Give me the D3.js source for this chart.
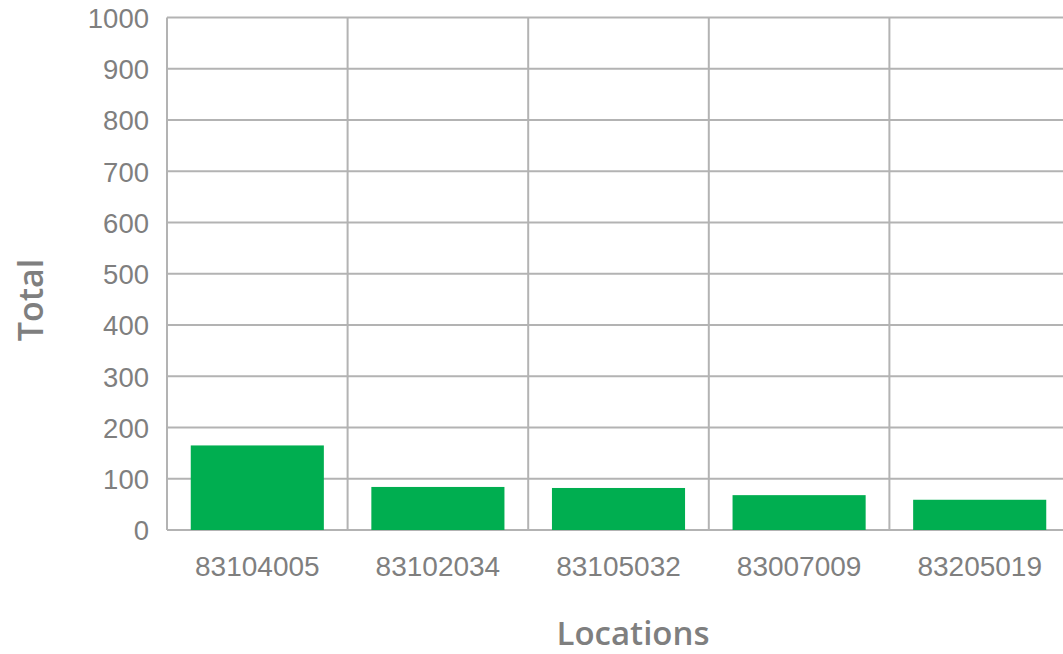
<!DOCTYPE html>
<html>
<head>
<meta charset="utf-8">
<script src="https://cdn.jsdelivr.net/npm/d3@7"></script>
<style>
  html, body { margin: 0; padding: 0; background: #fff; }
  svg { display: block; }
</style>
</head>
<body>
<svg id="chart" width="1063" height="654"></svg>
<script>
const categories = ["83104005", "83102034", "83105032", "83007009", "83205019"];
const values = [165, 84, 82, 68, 59];
const yTicks = [0, 100, 200, 300, 400, 500, 600, 700, 800, 900, 1000];
const xTitle = "Locations";
const yTitle = "Total";

const svg = d3.select("#chart");
const plotLeft = 167, plotRight = 1070, plotTop = 17.5, plotBottom = 530;
const gridColor = "#b3b3b3";
const textColor = "#7f7f7f";

const y = d3.scaleLinear().domain([0, 1000]).range([plotBottom, plotTop]);
const xGrid = d3.scaleBand().domain(categories).range([plotLeft, plotRight]).padding(0);
const x = d3.scaleBand().domain(categories).range([plotLeft, plotRight])
  .paddingInner(0.263).paddingOuter(0.1315);

// horizontal gridlines
svg.append("g").selectAll("line").data(yTicks).join("line")
  .attr("x1", plotLeft).attr("x2", 1063)
  .attr("y1", d => y(d)).attr("y2", d => y(d))
  .attr("stroke", gridColor).attr("stroke-width", 2);

// vertical gridlines at band boundaries
svg.append("g").selectAll("line").data(categories).join("line")
  .attr("x1", d => xGrid(d)).attr("x2", d => xGrid(d))
  .attr("y1", plotTop).attr("y2", plotBottom)
  .attr("stroke", gridColor).attr("stroke-width", 2);

// bars
svg.append("g").selectAll("rect").data(values).join("rect")
  .attr("x", (d, i) => x(categories[i]))
  .attr("width", x.bandwidth())
  .attr("y", d => y(d))
  .attr("height", d => plotBottom - y(d))
  .attr("fill", "#00ae50");

// y axis labels
const yAxis = d3.axisLeft(y).tickValues(yTicks).tickFormat(d3.format("d")).tickSize(0).tickPadding(0);
const gy = svg.append("g").attr("transform", `translate(${149},0)`).call(yAxis);
gy.select(".domain").remove();
gy.selectAll("text")
  .attr("fill", textColor)
  .style("font-family", "'Liberation Sans', Arial, sans-serif")
  .style("font-size", "27.5px")
  .attr("dy", "0.36em");

// x axis labels
const xAxis = d3.axisBottom(x).tickSize(0).tickPadding(0);
const gx = svg.append("g").attr("transform", `translate(0,${plotBottom})`).call(xAxis);
gx.select(".domain").remove();
gx.selectAll("text")
  .attr("fill", textColor)
  .attr("y", 46)
  .attr("dy", 0)
  .style("font-family", "'Liberation Sans', Arial, sans-serif")
  .style("font-size", "28px");

// axis titles
svg.append("text")
  .attr("x", 633).attr("y", 645)
  .attr("text-anchor", "middle")
  .attr("fill", textColor)
  .style("font-family", "'Open Sans', Lato, sans-serif")
  .style("font-weight", "600")
  .style("font-size", "33px")
  .text(xTitle);

svg.append("text")
  .attr("transform", "translate(43,300) rotate(-90)")
  .attr("text-anchor", "middle")
  .attr("fill", textColor)
  .style("font-family", "'Open Sans', Lato, sans-serif")
  .style("font-weight", "600")
  .style("font-size", "34px")
  .text(yTitle);
</script>
</body>
</html>
